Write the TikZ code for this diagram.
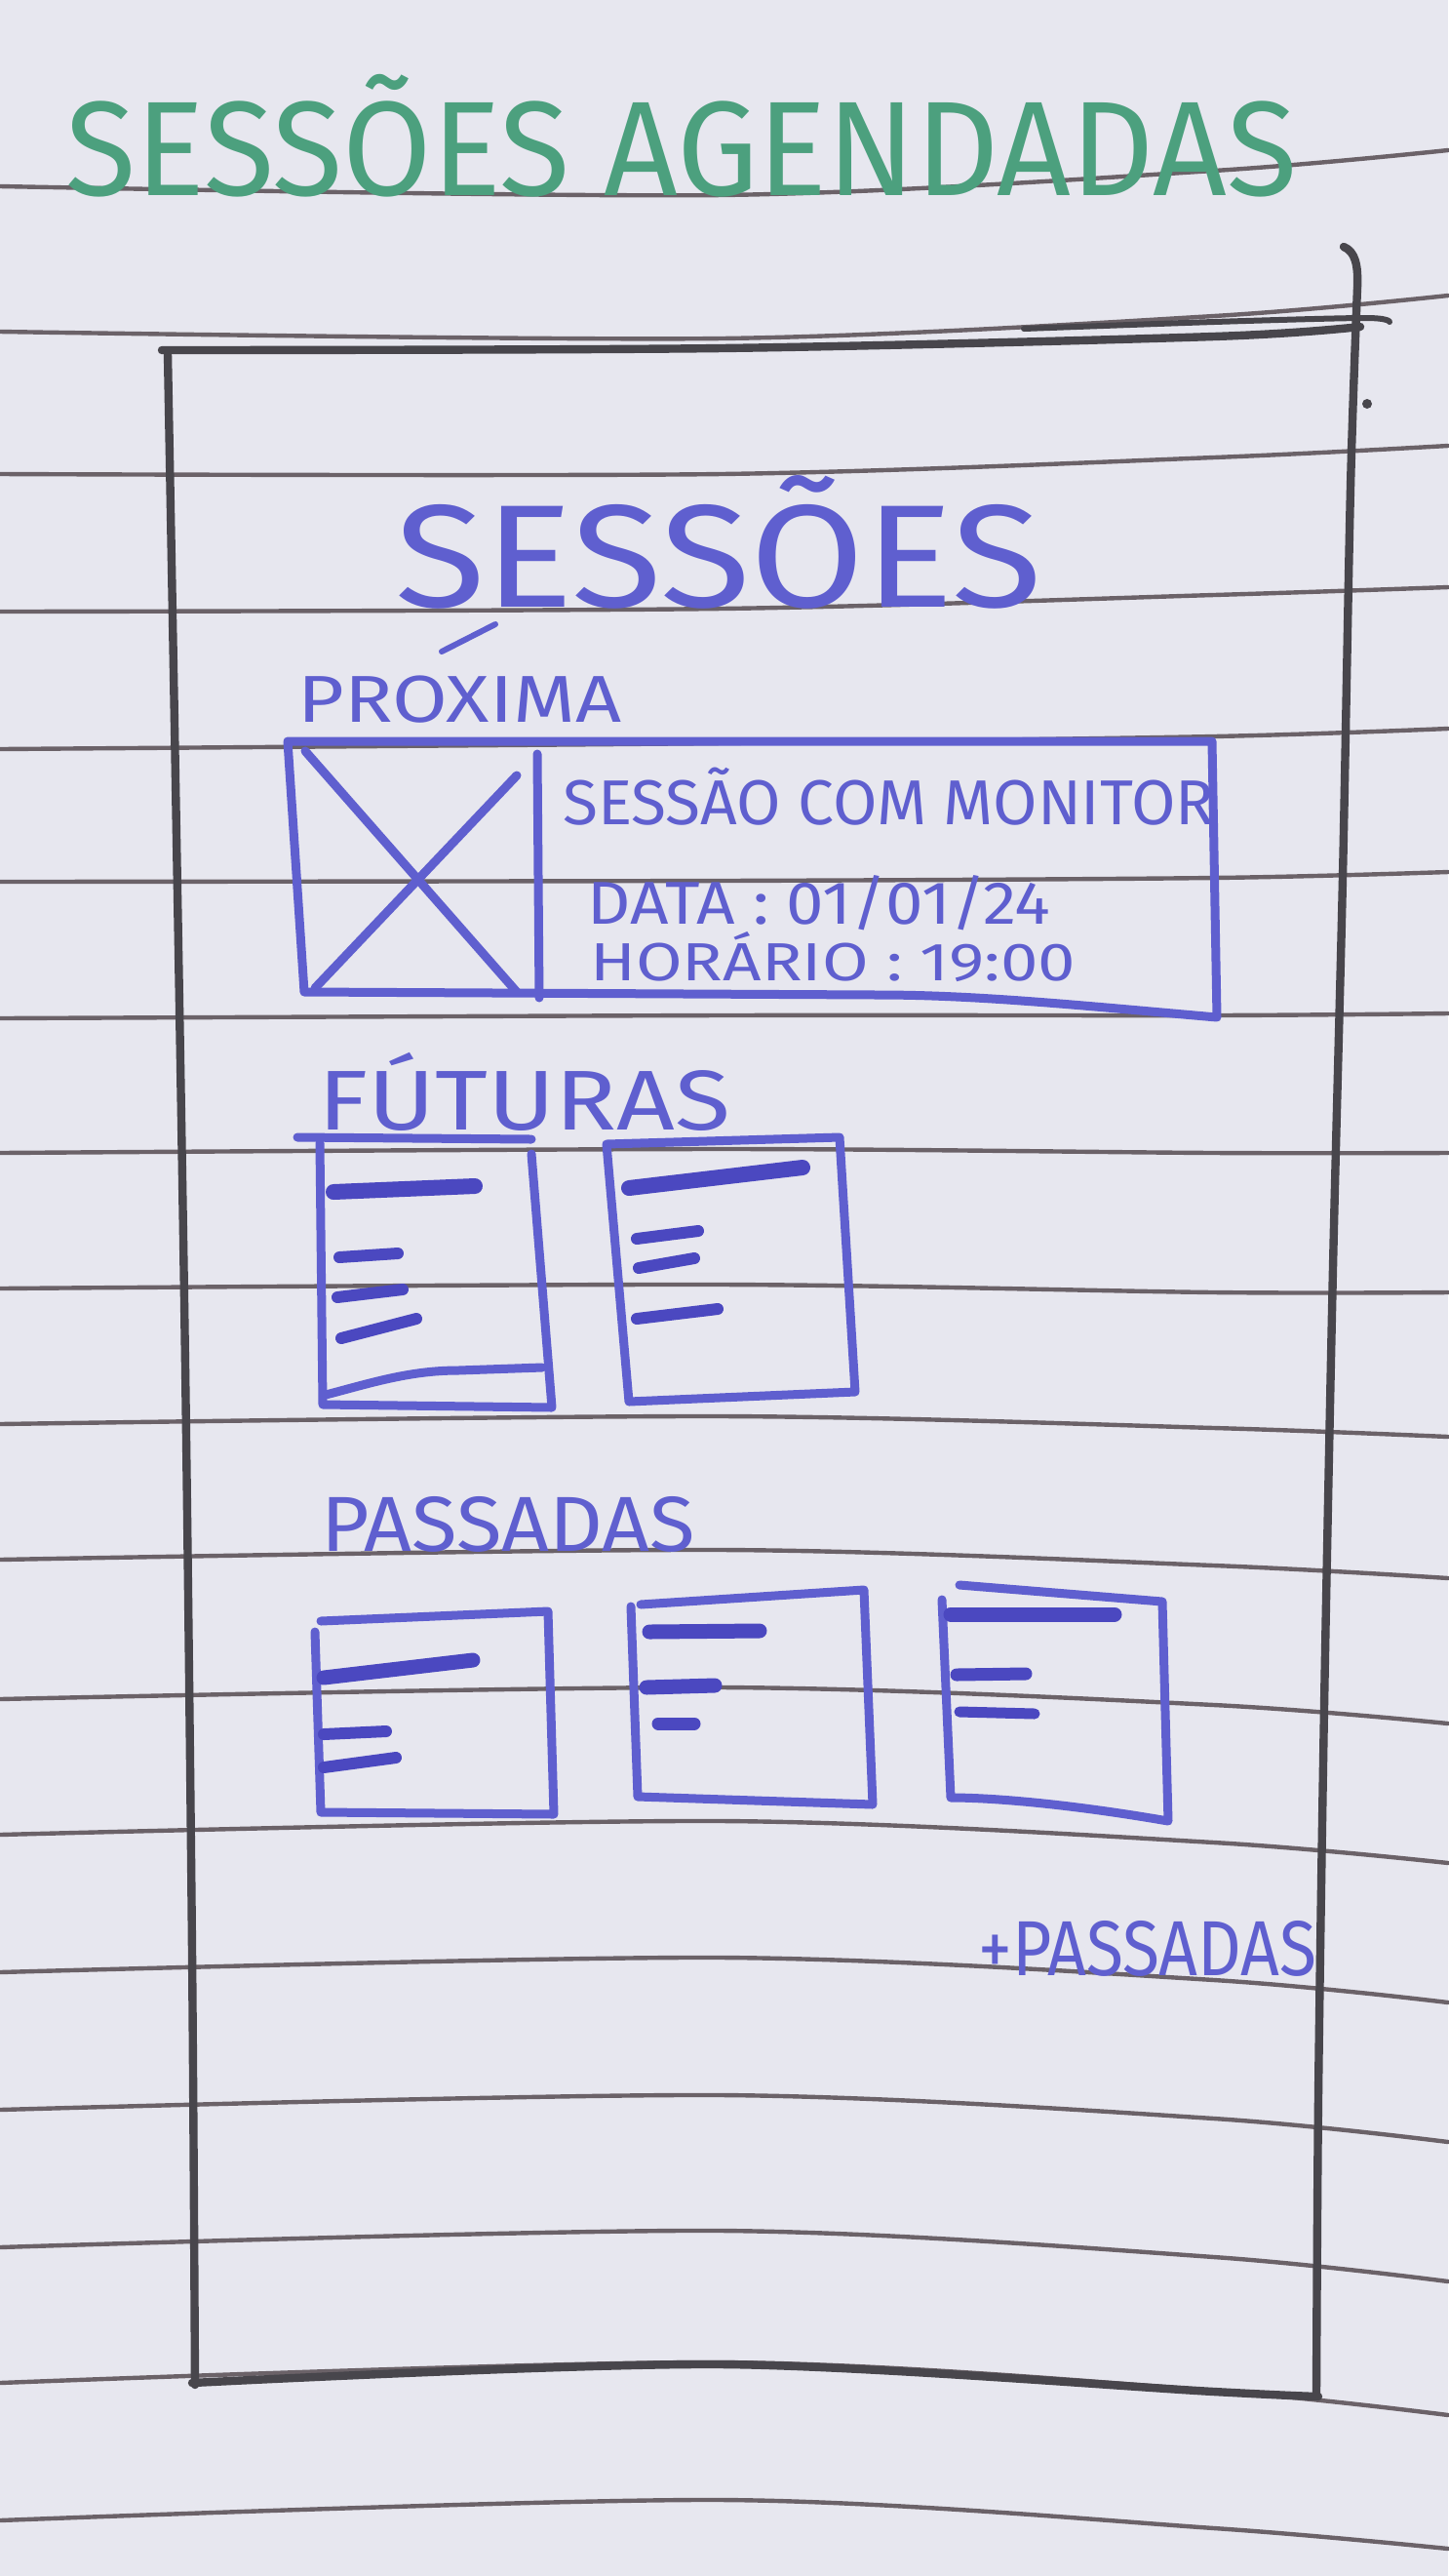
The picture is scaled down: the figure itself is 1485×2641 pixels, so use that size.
\documentclass[tikz,border=0pt]{standalone}
\usepackage{fontspec}
\setmainfont{Fira Sans}
\usepackage{graphicx}
\definecolor{paper}{HTML}{E7E7EF}
\definecolor{rulegray}{HTML}{6B6268}
\definecolor{pencil}{HTML}{48464C}
\definecolor{ink}{HTML}{5F5FCF}
\definecolor{inkdark}{HTML}{4B48C0}
\definecolor{marker}{HTML}{4CA07E}
% hand-lettered word: fixed width, cap height set by the font size
\newcommand{\hand}[3]{\resizebox{#1}{\height}{\fontsize{#2}{#2}\selectfont #3}}
\begin{document}
\begin{tikzpicture}[x=0.5pt,y=-0.5pt,line cap=round,line join=round,
  ruled/.style={draw=rulegray,line width=2.2pt},
  frameline/.style={draw=pencil,line width=4.2pt},
  inkline/.style={draw=ink,line width=4.5pt},
  bar/.style={draw=inkdark,line width=#1},
  bar/.default=6pt,
  word/.style={inner sep=0pt,anchor=base west,text=ink}]

% sheet
\fill[paper] (0,0) rectangle (1485,2641);
\useasboundingbox (0,0) rectangle (1485,2641);

% ruled lines of the notebook page
\foreach \a/\b/\c/\d in {191/200/175/154, 340/347/324/303, 486/486/469/457,
  627/624/610/602, 768/762/755/747, 904/903/900/894, 1044/1041/1041/1039,
  1182/1178/1182/1182, 1321/1317/1325/1325, 1460/1452/1464/1473,
  1599/1589/1605/1618, 1742/1730/1748/1767, 1881/1867/1889/1910,
  2022/2007/2030/2053, 2163/2148/2172/2196, 2304/2287/2314/2339,
  2443/2422/2451/2476, 2584/2563/2592/2613}
  \draw[ruled] plot[smooth] coordinates {(0,\a) (740,\b) (1245,\c) (1485,\d)};

% phone frame in pencil
\draw[frameline] plot[smooth] coordinates {(172,362) (180,800) (190,1400) (197,2000) (200,2445)};
\draw[frameline] (1378,253) .. controls (1390,258) and (1393,272) .. (1392,295);
\draw[frameline] plot[smooth] coordinates {(1392,295) (1385,500) (1377,900) (1367,1300) (1358,1750) (1352,2150) (1350,2455)};
\draw[frameline] plot[smooth] coordinates {(166,359) (740,357) (1245,345) (1395,335)};
\draw[frameline,line width=3pt] plot[smooth] coordinates {(1050,337) (1245,330) (1400,326) (1425,330)};
\draw[frameline] plot[smooth] coordinates {(197,2443) (740,2424) (1245,2452) (1352,2457)};
\fill[pencil] (1402,414) circle[radius=5];

% page title
\node[word,text=marker] (title) at (67,200) {\hand{631.5pt}{69pt}{SESSÕES AGENDADAS}};

% screen heading
\node[word] (heading) at (405,622) {\hand{331.5pt}{75pt}{SESSÕES}};
\draw[inkline,line width=3pt] (453,668) -- (508,640);

% next session card
\node[word] (proxima) at (305,740) {\hand{166pt}{34pt}{PROXIMA}};
\coordinate (cardNW) at (295,760);
\coordinate (cardNE) at (1243,760);
\coordinate (cardSE) at (1248,1043);
\coordinate (cardSW) at (312,1017);
\draw[inkline] (cardNW) -- (cardNE) -- (cardSE)
  .. controls (1100,1030) and (1000,1020) .. (900,1020) -- (cardSW) -- cycle;
\draw[inkline] (551,773) -- (553,1023);
\draw[inkline] (313,770) -- (530,1017);
\draw[inkline] (530,795) -- (323,1013);
\node[word] (sessao) at (577,845) {\hand{334pt}{32.5pt}{SESSÃO COM MONITOR}};
\node[word] (data) at (602,947) {\hand{237.5pt}{31pt}{DATA : 01/01/24}};
\node[word] (horario) at (605,1005) {\hand{249pt}{27.5pt}{HORÁRIO : 19:00}};

% upcoming sessions
\node[word] (futuras) at (326,1158) {\hand{211.5pt}{43.5pt}{FÚTURAS}};
\draw[inkline] (305,1166) -- (545,1168);
\draw[inkline] (328,1172) -- (331,1440) -- (566,1443) -- (545,1183);
\draw[inkline] (334,1430) .. controls (380,1418) and (420,1405) .. (470,1405) -- (556,1402);
\draw[bar=8pt] (342,1222) -- (487,1216);
\draw[bar] (348,1289) -- (408,1285);
\draw[bar] (346,1330) -- (413,1322);
\draw[bar] (350,1372) -- (427,1352);

\draw[inkline] (622,1173) -- (861,1166) -- (877,1427) -- (645,1437) -- cycle;
\draw[bar=8pt] (645,1218) -- (823,1197);
\draw[bar] (653,1270) -- (716,1262);
\draw[bar] (655,1300) -- (712,1290);
\draw[bar] (653,1352) -- (736,1342);

% past sessions
\node[word] (passadas) at (329,1590) {\hand{191.5pt}{40pt}{PASSADAS}};
\draw[inkline] (329,1662) -- (562,1652) -- (568,1860) -- (329,1858) -- (323,1673);
\draw[bar=7.5pt] (332,1720) -- (485,1702);
\draw[bar] (332,1778) -- (396,1775);
\draw[bar] (332,1812) -- (406,1802);

\draw[inkline] (657,1645) -- (886,1630) -- (895,1850) -- (654,1842) -- (647,1647);
\draw[bar=7.5pt] (666,1673) -- (779,1672);
\draw[bar=7.5pt] (663,1730) -- (733,1728);
\draw[bar=6.5pt] (675,1767) -- (712,1767);

\draw[inkline] (984,1625) -- (1192,1642) -- (1198,1867)
  .. controls (1100,1850) and (1020,1843) .. (975,1843) -- (966,1640);
\draw[bar=7.5pt] (975,1655) -- (1143,1655);
\draw[bar=6.5pt] (981,1717) -- (1052,1716);
\draw[bar=5.5pt] (984,1755) -- (1061,1757);

% more past sessions link
\node[word] (mais) at (1003,2025) {\hand{173.5pt}{40pt}{+PASSADAS}};
\end{tikzpicture}
\end{document}
